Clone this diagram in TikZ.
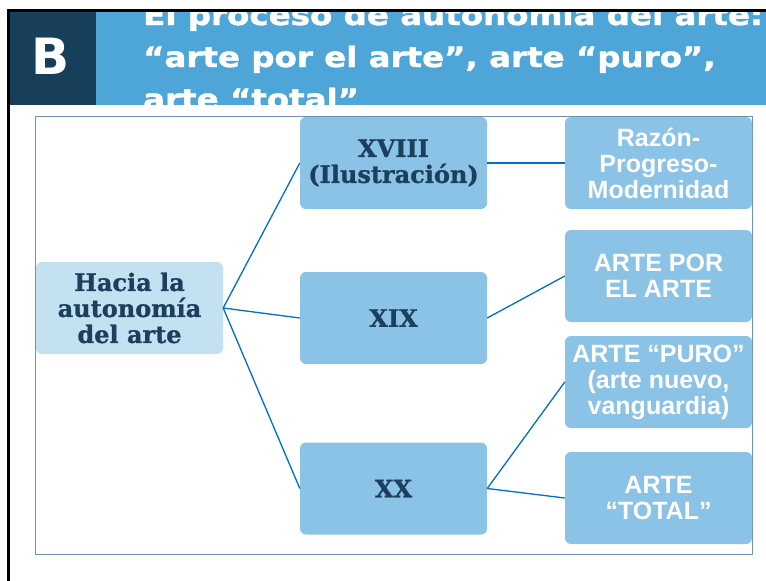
\documentclass[tikz,border=0pt]{standalone}
\usepackage{fontspec}
\setmainfont{Liberation Sans}
\newfontfamily\boxserif{DejaVu Serif}[FakeBold=1]
\newfontfamily\headfont{DejaVu Sans}[FakeStretch=1.16, FakeBold=1.5]
\newfontfamily\badgefont{DejaVu Sans}
\usepackage{xcolor}
\definecolor{headdark}{HTML}{173F5A}
\definecolor{headlight}{HTML}{4EA6D8}
\definecolor{boxblue}{HTML}{8AC3E5}
\definecolor{paleblue}{HTML}{C3E1F1}
\definecolor{navy}{HTML}{1C3F5E}
\definecolor{linkblue}{HTML}{0070C0}
\definecolor{framegray}{HTML}{6F93B0}

\begin{document}
\begin{tikzpicture}[x=1pt, y=-1pt,
    century/.style={fill=boxblue, rounded corners=6pt, minimum width=187pt, minimum height=92pt,
        inner sep=2pt, align=center, text=navy, font=\boxserif\bfseries\fontsize{24}{26}\selectfont},
    idea/.style={century, text=white, font=\bfseries\fontsize{25}{26}\selectfont},
    link/.style={draw=linkblue, line width=1.3pt},
    title/.style={anchor=base west, inner sep=0pt, text=white, font=\headfont\bfseries\fontsize{28}{42}\selectfont}]
        \useasboundingbox (0,0) rectangle (766,581);

        % Header
        \fill[headdark] (10,12) rectangle (96,105);
        \fill[headlight] (96,12) rectangle (766,105);
        \node[text=white, font=\badgefont\bfseries\fontsize{50}{50}\selectfont] (badge) at (51,56) {B};
        \begin{scope}
            \clip (96,12) rectangle (766,105);
            \node[title] (title1) at (143,25) {El proceso de autonomía del arte:};
            \node[title] (title2) at (143,67) {“arte por el arte”, arte “puro”,};
            \node[title] (title3) at (143,109) {arte “total”};
        \end{scope}
        \draw[line width=2.5pt] (7,10.5) -- (766,10.5);
        \draw[line width=2.5pt] (8.5,9.5) -- (8.5,581);

        % Frame
        \draw[framegray, line width=0.9pt] (35,116) rectangle (752,554);

        % Root
        \node[century, fill=paleblue] (hacia) at (129.5,308) {Hacia la\\autonomía\\del arte};

        % Centuries
        \node[century] (xviii) at (393.5,163) {XVIII\\(Ilustración)};
        \node[century] (xix) at (393.5,318) {XIX};
        \node[century] (xx) at (393.5,488.5) {XX};

        % Ideas
        \node[idea] (razon) at (658.5,163) {Razón-\\Progreso-\\Modernidad};
        \node[idea] (porarte) at (658.5,276) {ARTE POR\\EL ARTE};
        \node[idea] (puro) at (658.5,382) {ARTE “PURO”\\(arte nuevo,\\vanguardia)};
        \node[idea] (total) at (658.5,498) {ARTE\\“TOTAL”};

        % Connectors
        \draw[link] (hacia.east) -- (xviii.west);
        \draw[link] (hacia.east) -- (xix.west);
        \draw[link] (hacia.east) -- (xx.west);
        \draw[link] (xviii.east) -- (razon.west);
        \draw[link] (xix.east) -- (porarte.west);
        \draw[link] (xx.east) -- (puro.west);
        \draw[link] (xx.east) -- (total.west);
    \end{tikzpicture}
\end{document}
